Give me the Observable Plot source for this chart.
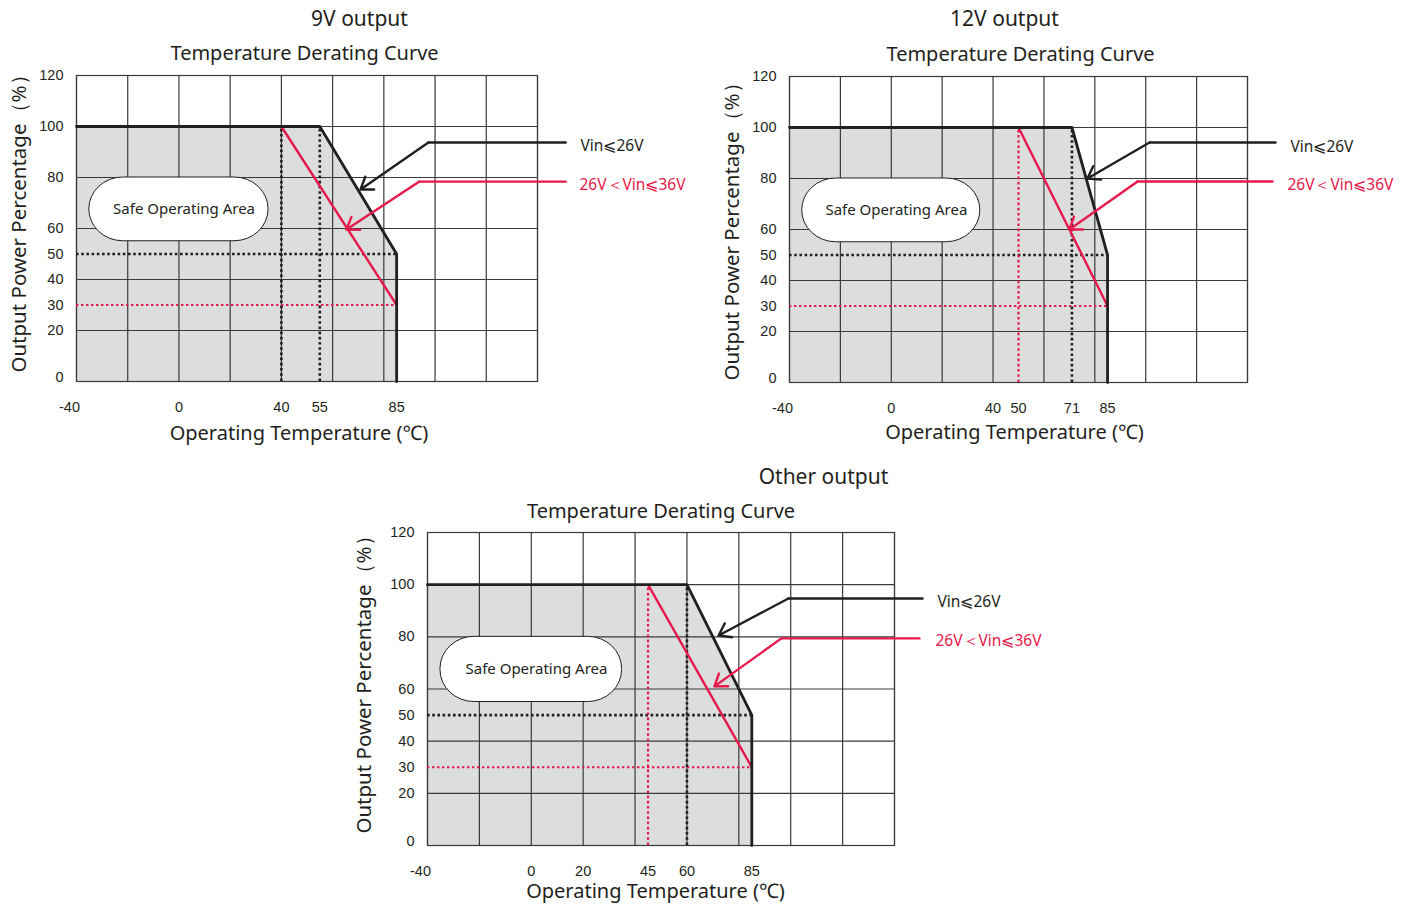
<!DOCTYPE html>
<html><head><meta charset="utf-8">
<script src="https://cdn.jsdelivr.net/npm/d3@7"></script>
<script src="https://cdn.jsdelivr.net/npm/@observablehq/plot@0.6"></script>
<style>
body{margin:0;background:#fff;}
#root{position:relative;width:1410px;height:907px;overflow:hidden;background:#fff;}
.panel{position:absolute;}
</style></head><body><div id="root"></div>
<script>
// ---------- data ----------
const titles = ["9V output", "12V output", "Other output"];
const subtitle = "Temperature Derating Curve";
const xLabel = "Operating Temperature (℃)";
const yLabel = "Output Power Percentage（%）";
const safeLabel = "Safe Operating Area";
const legendLabels = ["Vin⩽26V", "26V＜Vin⩽36V"];

const gridXValues = [-40, -20, 0, 20, 40, 60, 80, 100, 120, 140];
const gridYValues = [0, 20, 40, 60, 80, 100, 120];
const yTicks = [0, 20, 30, 40, 50, 60, 80, 100, 120];
const xTicks9V = [-40, 0, 40, 55, 85];
const xTicks12V = [-40, 0, 40, 50, 71, 85];
const xTicksOther = [-40, 0, 20, 45, 60, 85];

// derating curves: [temperature °C, output power %]
const curve9V = [[-40, 100], [55, 100], [85, 50], [85, 0]];
const curve12V = [[-40, 100], [71, 100], [85, 50], [85, 0]];
const curveOther = [[-40, 100], [60, 100], [85, 50], [85, 0]];
const red9V = [[40, 100], [85, 30]];
const red12V = [[50, 100], [85, 30]];
const redOther = [[45, 100], [85, 30]];
const guideLevels = [50, 30];     // black dotted 50 %, red dotted 30 %
const guideEndTemp = 85;

// Safe Operating Area box [x1, x2, y1, y2] and label point
const safeBox = [-35, 35, 55, 80];
const safeText = [2, 67.5];

// leader lines (data units): start, elbow, tip
const leaderBlack9V = [[151, 93.7], [97.4, 93.7], [70.9, 75.3]];
const leaderRed9V = [[151, 78.4], [93.9, 78.4], [65.4, 59.6]];
const leaderBlack12V = [[151, 94.1], [101.5, 94.1], [77.1, 80]];
const leaderRed12V = [[149.8, 78.8], [96.8, 78.8], [70, 60]];
const leaderBlackOther = [[150.8, 94.7], [99.1, 94.7], [72.2, 80.5]];
const leaderRedOther = [[149.6, 79.4], [96.4, 79.4], [70.6, 61]];
// legend text anchors (data units)
const legendPos9V = [[156.8, 92.2], [156.4, 76.9]];
const legendPos12V = [[156.9, 92.5], [155.7, 77.3]];
const legendPosOther = [[156.6, 93.2], [155.8, 78.2]];

// ---------- drawing ----------
const INK = "#231f20", RED = "#e5194b", GRID = "#3a3a3a", FILL = "#dcdddd";
const TITLE_FONT = "Noto Sans, Lato, sans-serif";
const TICK_FONT = "Liberation Sans, Arial, sans-serif";

function makePanel(cfg) {
  const fx = d => d[0], fy = d => d[1];
  const redStart = cfg.red[0][0];
  const knee = cfg.curve[1][0];
  const label = (txt, anchor, off, extra) => Plot.text([txt], Object.assign({
    frameAnchor: anchor, dx: off[0], dy: off[1], text: d => d,
    textAnchor: "middle", lineAnchor: "middle", fontFamily: TITLE_FONT, fill: INK
  }, extra));
  const tickOpts = {tickSize: 0, fontSize: 14.5, tickFormat: d => String(d), label: null, fill: INK};
  const marks = [
    Plot.areaY(cfg.curve.slice(0, 3), {x: fx, y: fy, fill: FILL}),
    Plot.ruleX(gridXValues, {stroke: GRID, strokeWidth: 1.2}),
    Plot.ruleY(gridYValues, {stroke: GRID, strokeWidth: 1.2}),
    Plot.frame({stroke: GRID, strokeWidth: 1.2}),
    // dotted guides
    Plot.ruleY([guideLevels[0]], {x1: -40, x2: guideEndTemp, stroke: INK, strokeWidth: 2.6, strokeDasharray: "2.6,2.6"}),
    Plot.ruleY([guideLevels[1]], {x1: -40, x2: guideEndTemp, stroke: RED, strokeWidth: 2.2, strokeDasharray: "2.4,2.6"}),
    Plot.ruleX([redStart], {y1: 0, y2: 100, stroke: cfg.redGuideColor, strokeWidth: cfg.redGuideColor === RED ? 2.2 : 2.6, strokeDasharray: "2.6,2.6"}),
    Plot.ruleX([knee], {y1: 0, y2: 100, stroke: INK, strokeWidth: 2.6, strokeDasharray: "2.6,2.6"}),
    // curves
    Plot.line(cfg.red, {x: fx, y: fy, stroke: RED, strokeWidth: 2.4}),
    Plot.line(cfg.curve, {x: fx, y: fy, stroke: INK, strokeWidth: 2.8}),
    // safe area box
    Plot.rect([safeBox], {x1: d => d[0], x2: d => d[1], y1: d => d[2], y2: d => d[3], fill: "white", stroke: INK, strokeWidth: 1, rx: 34, ry: 32}),
    Plot.text([safeLabel], {x: safeText[0], y: safeText[1], text: d => d, fontSize: 15, fontFamily: TITLE_FONT, fill: INK}),
    // leaders
    Plot.line(cfg.leaderBlack.slice(0, 2), {x: fx, y: fy, stroke: INK, strokeWidth: 2.4}),
    Plot.arrow([cfg.leaderBlack], {x1: d => d[1][0], y1: d => d[1][1], x2: d => d[2][0], y2: d => d[2][1], stroke: INK, strokeWidth: 2.4, headLength: 8.5, headAngle: 70}),
    Plot.line(cfg.leaderRed.slice(0, 2), {x: fx, y: fy, stroke: RED, strokeWidth: 2.4}),
    Plot.arrow([cfg.leaderRed], {x1: d => d[1][0], y1: d => d[1][1], x2: d => d[2][0], y2: d => d[2][1], stroke: RED, strokeWidth: 2.4, headLength: 8.5, headAngle: 70}),
    Plot.text([0, 1], {x: i => cfg.legendPos[i][0], y: i => cfg.legendPos[i][1], text: i => legendLabels[i], fill: i => i === 0 ? INK : RED, textAnchor: "start", fontSize: 15.5, fontFamily: TITLE_FONT}),
    // axes
    Plot.axisX(cfg.xTicks.filter(t => t !== -40), {...tickOpts, tickPadding: 20}),
    Plot.axisX([-40], {...tickOpts, tickPadding: 20, dx: -7}),
    Plot.axisY(yTicks.filter(t => t !== 0), {...tickOpts, tickPadding: 13}),
    Plot.axisY([0], {...tickOpts, tickPadding: 13, dy: -4}),
    // titles and axis labels
    label(cfg.title, "top", cfg.t, {fontSize: 21}),
    label(subtitle, "top", cfg.s, {fontSize: 20}),
    label(xLabel, "bottom", cfg.xl, {fontSize: 20}),
    label(yLabel, "left", cfg.yl, {fontSize: 20.5, rotate: -90})
  ];
  const svg = Plot.plot({
    width: cfg.width, height: cfg.height,
    marginLeft: cfg.ml, marginRight: cfg.mr, marginTop: cfg.mt, marginBottom: cfg.mb,
    x: {domain: [-40, 140], axis: null},
    y: {domain: [0, 120], axis: null},
    style: {fontFamily: TICK_FONT, fontSize: "14px", background: "transparent", overflow: "visible", color: INK},
    marks
  });
  const div = document.createElement("div");
  div.className = "panel";
  div.style.left = cfg.left + "px";
  div.style.top = cfg.top + "px";
  div.appendChild(svg);
  document.getElementById("root").appendChild(div);
}

makePanel({
  left: 0, top: 0, width: 700, height: 450, ml: 76, mr: 163, mt: 75, mb: 69,
  title: titles[0], curve: curve9V, red: red9V, xTicks: xTicks9V, redGuideColor: INK,
  leaderBlack: leaderBlack9V, leaderRed: leaderRed9V, legendPos: legendPos9V,
  t: [52.5, -56], s: [-2.5, -22], xl: [-8, 52], yl: [-57, -10]
});
makePanel({
  left: 705, top: 0, width: 705, height: 450, ml: 84, mr: 163, mt: 76, mb: 68,
  title: titles[1], curve: curve12V, red: red12V, xTicks: xTicks12V, redGuideColor: RED,
  leaderBlack: leaderBlack12V, leaderRed: leaderRed12V, legendPos: legendPos12V,
  t: [-14, -57], s: [2, -22], xl: [-4, 50], yl: [-57, -3]
});
makePanel({
  left: 340, top: 455, width: 720, height: 452, ml: 87, mr: 166, mt: 77, mb: 62,
  title: titles[2], curve: curveOther, red: redOther, xTicks: xTicksOther, redGuideColor: RED,
  leaderBlack: leaderBlackOther, leaderRed: leaderRedOther, legendPos: legendPosOther,
  t: [162.5, -55], s: [0, -21], xl: [-5.5, 46], yl: [-63, -9.5]
});
</script></body></html>
